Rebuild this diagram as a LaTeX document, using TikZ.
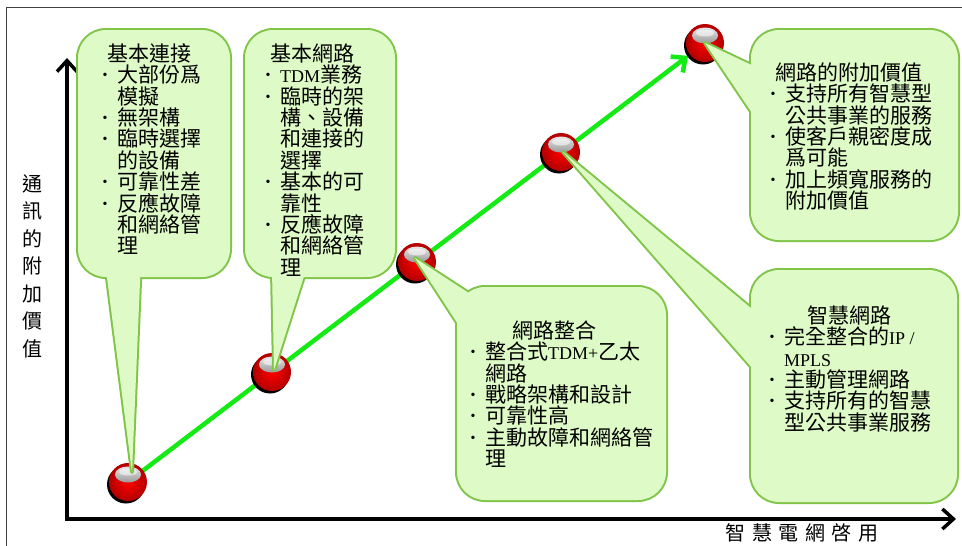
\documentclass[tikz,border=0pt]{standalone}
\usepackage{fontspec}
\setmainfont{Noto Sans CJK TC}
\newfontfamily\latf{Liberation Serif}
\usetikzlibrary{arrows.meta,calc}
\definecolor{cfill}{RGB}{222,250,198}
\definecolor{cline}{RGB}{128,196,72}
\definecolor{lgreen}{RGB}{20,235,20}
\newcommand\bul{\makebox[14.5pt][l]{\raisebox{3pt}{\latf\fontsize{14}{14}\selectfont •}}}
\newcommand\ind{\hspace*{14.5pt}}
\newcommand\lt[1]{{\latf\fontsize{18}{18}\selectfont #1}}
\newcommand\fst{\rule{0pt}{18pt}}
\begin{document}
\begin{tikzpicture}[x=1pt,y=-1pt,
 txt/.style={anchor=north west,inner sep=0pt,align=left,font=\fontsize{21}{21.4}\selectfont},
 axislab/.style={inner sep=0pt,font=\fontsize{20}{27.5}\selectfont,align=center},
 axisline/.style={line width=3.5pt,-{Straight Barb[length=11pt,width=20pt]}},
 gline/.style={draw=lgreen,line width=4.5pt,-{Straight Barb[length=11pt,width=20pt]}},
 frameline/.style={draw=black!75,line width=1.6pt},
 ballnode/.style={circle,minimum size=42pt,inner sep=0pt},
 boxline/.style={draw=cline,line width=4pt,rounded corners=28pt},
 tipline/.style={draw=cline,line width=4pt,line join=round},
 boxfill/.style={fill=cfill,rounded corners=28pt},
 tipfill/.style={fill=cfill},
]
\useasboundingbox (0,0) rectangle (962,546);
% frame
\draw[frameline] (6.5,546) -- (6.5,7.5) -- (962,7.5);
% axes
\coordinate (o) at (67,520.75);
\coordinate (ox) at (65.25,519);
\coordinate (ytip) at (67,58);
\coordinate (xtip) at (956,519);
\draw[axisline] (o) -- (ytip);
\draw[axisline] (ox) -- (xtip);
\node[axislab] (ylab) at (32,266) {通\\訊\\的\\附\\加\\價\\值};
\node[inner sep=0pt,font=\fontsize{20}{20}\selectfont] (xlab) at (802,533)
  {智\hspace{6.5pt}慧\hspace{6.5pt}電\hspace{6.5pt}網\hspace{6.5pt}啓\hspace{6.5pt}用};
% balls
\node[ballnode] (b1) at (128,482) {};
\node[ballnode] (b2) at (272,372) {};
\node[ballnode] (b3) at (417,262) {};
\node[ballnode] (b4) at (561,152) {};
\node[ballnode] (b5) at (705,43) {};
\draw[gline] (b1.center) -- (b5);
\foreach \b in {b1,b2,b3,b4,b5}{
  \fill[black] ($(\b)+(-2,2.5)$) circle (19);
  \shade[inner color=red, outer color=red!70!black] (\b) circle (19);
  \shade[top color=gray!20, bottom color=gray!80] ($(\b)+(0,-7.5)$) ellipse (13 and 8);
  \fill[white, opacity=0.55] ($(\b)+(0,-10)$) ellipse (9 and 3.5);
}
% callout borders
\draw[tipline] (106,270) -- (132,472) -- (140.5,270) -- cycle;
\draw[boxline] (78,30) rectangle (230,277);
\draw[tipline] (272,270) -- (274,370) -- (306,270) -- cycle;
\draw[boxline] (245,30) rectangle (395,277);
\draw[tipline] (475,297) -- (415,258) -- (465,335) -- cycle;
\draw[boxline] (457,287) rectangle (666,500);
\draw[tipline] (760,69) -- (705,43) -- (760,125) -- cycle;
\draw[boxline] (751,30) rectangle (958,240);
\draw[tipline] (760,315.5) -- (563,152) -- (760,377) -- cycle;
\draw[boxline] (751,270) rectangle (957,502);
% callout fills
\fill[boxfill] (78,30) rectangle (230,277);
\fill[tipfill] (106,270) -- (132,472) -- (140.5,270) -- cycle;
\fill[boxfill] (245,30) rectangle (395,277);
\fill[tipfill] (272,270) -- (274,370) -- (306,270) -- cycle;
\fill[boxfill] (457,287) rectangle (666,500);
\fill[tipfill] (475,297) -- (415,258) -- (465,335) -- cycle;
\fill[boxfill] (751,30) rectangle (958,240);
\fill[tipfill] (760,69) -- (705,43) -- (760,125) -- cycle;
\fill[boxfill] (751,270) rectangle (957,502);
\fill[tipfill] (760,315.5) -- (563,152) -- (760,377) -- cycle;
% texts
\node[txt] (t1) at (102.5,43) {\fst\hspace*{4.5pt}基本連接\\
\bul 大部份爲\\
\ind 模擬\\
\bul 無架構\\
\bul 臨時選擇\\
\ind 的設備\\
\bul 可靠性差\\
\bul 反應故障\\
\ind 和網絡管\\
\ind 理};
\node[txt] (t2) at (265.5,43) {\fst\hspace*{4.5pt}基本網路\\
\bul\lt{TDM}業務\\
\bul 臨時的架\\
\ind 構、設備\\
\ind 和連接的\\
\ind 選擇\\
\bul 基本的可\\
\ind 靠性\\
\bul 反應故障\\
\ind 和網絡管\\
\ind 理};
\node[txt] (t3) at (470.5,320) {\fst\hspace*{41.5pt}網路整合\\
\bul 整合式\lt{TDM+}乙太\\
\ind 網路\\
\bul 戰略架構和設計\\
\bul 可靠性高\\
\bul 主動故障和網絡管\\
\ind 理};
\node[txt] (t4) at (770.5,62) {\fst\hspace*{4.5pt}網路的附加價值\\
\bul 支持所有智慧型\\
\ind 公共事業的服務\\
\bul 使客戶親密度成\\
\ind 爲可能\\
\bul 加上頻寬服務的\\
\ind 附加價值};
\node[txt] (t5) at (769.5,305) {\fst\hspace*{37.5pt}智慧網路\\
\bul 完全整合的\lt{IP /}\\
\ind\lt{MPLS}\\
\bul 主動管理網路\\
\bul 支持所有的智慧\\
\ind 型公共事業服務};
\end{tikzpicture}
\end{document}
